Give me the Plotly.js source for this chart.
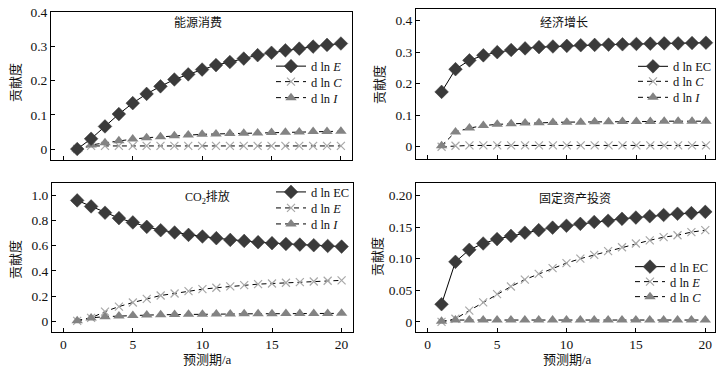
<!DOCTYPE html>
<html>
<head>
<meta charset="utf-8">
<script src="https://cdn.plot.ly/plotly-3.0.1.min.js"></script>
<style>html,body{margin:0;padding:0;background:#fff;}#chart{width:724px;height:371px;}</style>
</head>
<body>
<div id="chart"></div>
<script>
// ---------- data ----------
const periods = [1,2,3,4,5,6,7,8,9,10,11,12,13,14,15,16,17,18,19,20];

// 能源消费
const energy_dlnE = [0, 0.030, 0.066, 0.102, 0.134, 0.161, 0.183, 0.203, 0.218, 0.232, 0.245, 0.254, 0.264, 0.274, 0.281, 0.288, 0.293, 0.299, 0.304, 0.308];
const energy_dlnC = [0, 0.009, 0.009, 0.009, 0.009, 0.009, 0.009, 0.009, 0.009, 0.009, 0.009, 0.009, 0.009, 0.009, 0.009, 0.009, 0.009, 0.009, 0.009, 0.009];
const energy_dlnI = [0, 0.012, 0.018, 0.024, 0.029, 0.033, 0.036, 0.039, 0.041, 0.043, 0.044, 0.045, 0.046, 0.047, 0.048, 0.049, 0.050, 0.051, 0.051, 0.052];

// 经济增长
const growth_dlnEC = [0.174, 0.246, 0.274, 0.290, 0.300, 0.307, 0.312, 0.316, 0.318, 0.320, 0.322, 0.323, 0.324, 0.325, 0.326, 0.327, 0.328, 0.328, 0.329, 0.330];
const growth_dlnC  = [0, 0.003, 0.004, 0.004, 0.004, 0.004, 0.004, 0.004, 0.004, 0.004, 0.004, 0.004, 0.004, 0.004, 0.004, 0.004, 0.004, 0.004, 0.004, 0.004];
const growth_dlnI  = [0.003, 0.047, 0.059, 0.067, 0.071, 0.073, 0.075, 0.076, 0.077, 0.078, 0.078, 0.079, 0.079, 0.080, 0.080, 0.080, 0.081, 0.081, 0.081, 0.081];

// CO2排放
const co2_dlnEC = [0.960, 0.912, 0.862, 0.819, 0.785, 0.750, 0.723, 0.705, 0.686, 0.673, 0.660, 0.646, 0.638, 0.628, 0.620, 0.614, 0.609, 0.604, 0.598, 0.593];
const co2_dlnE  = [0.003, 0.027, 0.077, 0.117, 0.149, 0.178, 0.205, 0.221, 0.239, 0.255, 0.266, 0.277, 0.287, 0.295, 0.300, 0.306, 0.311, 0.316, 0.322, 0.325];
const co2_dlnI  = [0.005, 0.027, 0.037, 0.043, 0.046, 0.049, 0.052, 0.054, 0.055, 0.056, 0.057, 0.058, 0.059, 0.060, 0.060, 0.061, 0.061, 0.062, 0.062, 0.063];

// 固定资产投资
const invest_dlnEC = [0.028, 0.095, 0.114, 0.124, 0.131, 0.136, 0.141, 0.145, 0.149, 0.152, 0.155, 0.158, 0.160, 0.163, 0.165, 0.167, 0.169, 0.171, 0.172, 0.174];
const invest_dlnE  = [0, 0.005, 0.018, 0.031, 0.044, 0.056, 0.067, 0.076, 0.085, 0.093, 0.100, 0.106, 0.112, 0.118, 0.124, 0.129, 0.134, 0.137, 0.142, 0.145];
const invest_dlnC  = [0.001, 0.003, 0.003, 0.003, 0.003, 0.003, 0.003, 0.003, 0.003, 0.003, 0.003, 0.003, 0.003, 0.003, 0.003, 0.003, 0.003, 0.003, 0.003, 0.003];

// tick labels
const xTickVals = [0, 5, 10, 15, 20];
const xTickText = ['0', '5', '10', '15', '20'];
const yTicks1 = [0, 0.1, 0.2, 0.3, 0.4];
const yText1  = ['0', '0.1', '0.2', '0.3', '0.4'];
const yTicks2 = [0, 0.1, 0.2, 0.3, 0.4];
const yText2  = ['0', '0.1', '0.2', '0.3', '0.4'];
const yTicks3 = [0, 0.2, 0.4, 0.6, 0.8, 1.0];
const yText3  = ['0', '0.2', '0.4', '0.6', '0.8', '1.0'];
const yTicks4 = [0, 0.05, 0.10, 0.15, 0.20];
const yText4  = ['0', '0.05', '0.10', '0.15', '0.20'];

const panelTitles = ['能源消费', '经济增长', 'CO<sub>2</sub>排放', '固定资产投资'];
const yTitle = '贡献度';
const xTitle = '预测期/a';

// ---------- styling ----------
const W = 724, H = 371;
const FONT = 'Times New Roman, Liberation Serif, Noto Sans CJK SC, serif';

function px2x(p){ return p / W; }
function py2y(p){ return 1 - p / H; }

const styleEC = {mode:'lines+markers', line:{color:'#000', width:1},
  marker:{symbol:'diamond', size:10.5, color:'#3a3a3a', line:{color:'#3a3a3a', width:0.5}}};
const styleX = {mode:'lines+markers', line:{color:'#000', width:1, dash:'5px,4px'},
  marker:{symbol:'x-thin', size:8, color:'#a8a8a8', line:{color:'#a8a8a8', width:1.2}}};
const styleTri = {mode:'lines+markers', line:{color:'#000', width:1, dash:'5px,4px'},
  marker:{symbol:'triangle-up', size:10, color:'#838383', line:{width:0}}};

function tr(x, y, style, name, ax, leg){
  return Object.assign({x:x, y:y, name:name, xaxis:'x'+ax, yaxis:'y'+ax,
    legend:leg, hoverinfo:'skip'}, JSON.parse(JSON.stringify(style)));
}

const data = [
  tr(periods, energy_dlnC, styleX, 'd ln <i>C</i>', '', 'legend2'),
  tr(periods, energy_dlnI, styleTri, 'd ln <i>I</i>', '', 'legend3'),
  tr(periods, energy_dlnE, styleEC, 'd ln <i>E</i>', '', 'legend'),

  tr(periods, growth_dlnC, styleX, 'd ln <i>C</i>', '2', 'legend5'),
  tr(periods, growth_dlnI, styleTri, 'd ln <i>I</i>', '2', 'legend6'),
  tr(periods, growth_dlnEC, styleEC, 'd ln EC', '2', 'legend4'),

  tr(periods, co2_dlnE, styleX, 'd ln <i>E</i>', '3', 'legend8'),
  tr(periods, co2_dlnI, styleTri, 'd ln <i>I</i>', '3', 'legend9'),
  tr(periods, co2_dlnEC, styleEC, 'd ln EC', '3', 'legend7'),

  tr(periods, invest_dlnE, styleX, 'd ln <i>E</i>', '4', 'legend11'),
  tr(periods, invest_dlnC, styleTri, 'd ln <i>C</i>', '4', 'legend12'),
  tr(periods, invest_dlnEC, styleEC, 'd ln EC', '4', 'legend10')
];

function xax(l, r, range, anchor, showLabels){
  return {domain:[px2x(l), px2x(r)], range:range, anchor:anchor,
    tickmode:'array', tickvals:xTickVals, ticktext:xTickText, showticklabels:showLabels,
    ticks:'inside', ticklen:4, tickcolor:'#000', showline:true, linecolor:'#000', linewidth:1,
    mirror:true, showgrid:false, zeroline:false, tickfont:{family:FONT, size:13.5, color:'#111'}};
}
function yax(t, b, range, anchor, vals, text){
  return {domain:[py2y(b), py2y(t)], range:range, anchor:anchor,
    tickmode:'array', tickvals:vals, ticktext:text,
    ticks:'inside', ticklen:4, tickcolor:'#000', showline:true, linecolor:'#000', linewidth:1,
    mirror:true, showgrid:false, zeroline:false, tickfont:{family:FONT, size:13.5, color:'#111'}};
}
function leg(xpx, ypx){
  return {x:px2x(xpx), y:py2y(ypx), xanchor:'left', yanchor:'middle', bgcolor:'rgba(0,0,0,0)',
    font:{family:FONT, size:12.5, color:'#111'}, itemwidth:30, borderwidth:0};
}
function ann(text, xpx, ypx, size, angle){
  return {text:text, x:px2x(xpx), y:py2y(ypx), xref:'paper', yref:'paper', showarrow:false,
    xanchor:'center', yanchor:'middle', textangle:angle||0, font:{family:FONT, size:size, color:'#111'}};
}

const layout = {
  width:W, height:H, margin:{l:0, r:0, t:0, b:0}, paper_bgcolor:'#fff', plot_bgcolor:'#fff',
  showlegend:true,
  xaxis:  xax(51, 352, [-0.89, 20.8], 'y', false),
  yaxis:  yax(12, 160, [-0.032, 0.4], 'x', yTicks1, yText1),
  xaxis2: xax(416, 715, [-0.84, 20.65], 'y2', false),
  yaxis2: yax(9, 159, [-0.039, 0.437], 'x2', yTicks2, yText2),
  xaxis3: xax(52, 353, [-0.81, 20.82], 'y3', true),
  yaxis3: yax(183, 332, [-0.085, 1.098], 'x3', yTicks3, yText3),
  xaxis4: xax(416, 715, [-0.84, 20.7], 'y4', true),
  yaxis4: yax(183, 332, [-0.0159, 0.2196], 'x4', yTicks4, yText4),
  legend:   leg(271, 66.5),
  legend2:  leg(271, 82),
  legend3:  leg(271, 98),
  legend4:  leg(633, 66.7),
  legend5:  leg(633, 81.7),
  legend6:  leg(633, 97.7),
  legend7:  leg(271, 192.3),
  legend8:  leg(271, 208.3),
  legend9:  leg(271, 224.3),
  legend10: leg(630, 267),
  legend11: leg(630, 282),
  legend12: leg(630, 297),
  annotations: [
    ann(panelTitles[0], 198, 23, 12),
    ann(panelTitles[1], 564, 22, 12),
    ann(panelTitles[2], 207, 197, 12),
    ann(panelTitles[3], 575, 198, 12),
    ann(yTitle, 15, 83, 13, -90),
    ann(yTitle, 379, 85, 13, -90),
    ann(yTitle, 15, 260, 13, -90),
    ann(yTitle, 377, 257, 13, -90),
    ann(xTitle, 207, 359, 13),
    ann(xTitle, 567, 359, 13)
  ]
};

Plotly.newPlot('chart', data, layout, {displayModeBar:false, staticPlot:true});
</script>
</body>
</html>
